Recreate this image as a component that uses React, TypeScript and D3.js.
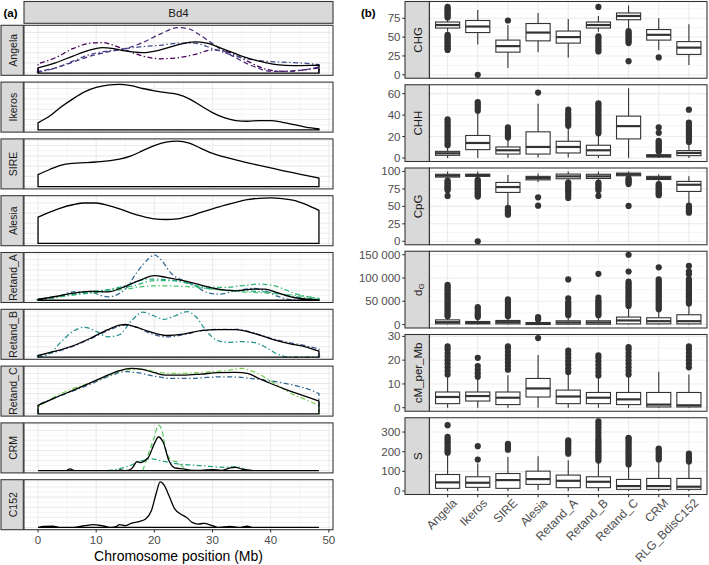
import React from 'react';
import * as d3 from 'd3';

const FONT = '"Liberation Sans", Arial, Helvetica, sans-serif';

// ---------- (a) density panels ----------
const chromosome = 'Bd4';
const families = ['Angela', 'Ikeros', 'SIRE', 'Alesia', 'Retand_A', 'Retand_B', 'Retand_C', 'CRM', 'C152'];
const xTicks = [0, 10, 20, 30, 40, 50];
const xMinor = [5, 15, 25, 35, 45];
const chromMax = 48.3;

const angelaAll = [[0,5],[3,10],[6,16.7],[9,22.7],[11,25],[13,24],[15,21.7],[18,20],[21,22.7],[24,27.7],[27,30.7],[29,29.3],[32,23.3],[35,16.7],[38,11.7],[41,8.3],[44,7.3],[48.3,7.7]];
const angelaSub1 = [[0,9.3],[3,15],[6,24],[9,29.3],[11,30],[13,27.3],[15,22.7],[18,16.7],[21,14],[24,15],[27,18.3],[30,22.7],[33,20],[36,11.7],[39,4],[42,1.7],[45,2.7],[48.3,5]];
const angelaSub2 = [[0,1.7],[3,5],[6,10.7],[9,16.7],[12,20.7],[15,24],[18,30],[21,38.3],[24,44.7],[26,43.3],[28,36.7],[31,25],[34,15],[37,6.7],[40,1.7],[43,1.7],[46,3.3],[48.3,6]];
const angelaSub3 = [[0,0.7],[3,5],[6,11.7],[9,18.3],[12,21.7],[15,24],[18,26],[21,27.3],[24,29.3],[27,29.3],[30,24],[33,18.3],[36,14],[39,11.7],[42,10.7],[45,10],[48.3,8.3]];
const ikerosAll = [[0,6.7],[2,13.3],[4,22.3],[6,30],[8,36.7],[10,41],[12,43.3],[14,44],[16,42.7],[18,40],[20,37.7],[22,36],[24,34.3],[26,30],[28,23.3],[30,16.7],[32,11.7],[34,9],[36,8.3],[38,9],[40,9],[42,7.3],[44,5],[46,2.7],[48.3,1]];
const sireAll = [[0,11.7],[2,16.7],[4,21],[6,22.7],[8,23.3],[10,24],[12,25],[14,26.7],[16,30],[18,35],[20,40],[22,43.3],[24,44.3],[26,42.3],[28,37.3],[30,32.3],[32,29],[34,26],[36,23.3],[38,20.7],[40,18.3],[42,15.7],[44,13.3],[46,11],[48.3,8.3]];
const alesiaAll = [[0,26],[2,31],[4,35.3],[6,38.3],[8,40],[10,40],[12,37.7],[14,34.3],[16,30],[18,26.7],[20,24.3],[22,23.7],[24,24.3],[26,27],[28,30.7],[30,34.3],[32,37.7],[34,40.7],[36,43.3],[38,44.7],[40,45],[42,44.3],[44,42.7],[46,38.7],[48.3,32.7]];
const retandAAll = [[0,1],[3,3.7],[6,7],[9,8.7],[12,8.3],[15,13.7],[18,21],[20,24.3],[22,22.7],[25,19.3],[28,15],[31,11],[34,9.3],[37,11],[39,11],[41,7.7],[44,2.7],[48.3,0.3]];
const retandASub1 = [[0,0.3],[3,2.7],[6,8.3],[9,7.7],[12,3.3],[15,11],[17,27.7],[19,41],[20,45],[21,41],[23,26],[25,19.3],[27,14.3],[29,7.7],[31,6],[34,9.3],[37,11.7],[39,9.3],[41,4.3],[44,0.3],[48.3,0]];
const retandASub2 = [[0,1],[4,4.3],[8,8.3],[12,10.3],[16,13.7],[20,19.3],[24,19.3],[28,13.7],[32,12.7],[36,15],[38,16],[41,13.7],[44,7],[48.3,1.7]];
const retandASub3 = [[0,0.3],[5,4.3],[10,7.7],[15,11],[20,14.3],[25,13.7],[30,11],[35,8.3],[40,7],[44,5],[48.3,1.7]];
const retandASub4 = [[0,0.3],[5,5],[10,8.3],[15,14.3],[19,21],[22,20.3],[25,17.7],[28,12.7],[32,10.3],[36,9.3],[40,7.7],[44,3.7],[48.3,1]];
const retandBAll = [[0,1.7],[3,5.7],[6,11],[9,18.3],[12,26.7],[14,31],[15,31.7],[16,30.7],[19,25],[22,21],[25,22.3],[28,25.7],[31,26.7],[34,26.7],[37,23.3],[40,17.7],[43,13.3],[46,10],[48.3,5.7]];
const retandBSub1 = [[0,1],[3,5],[6,10.3],[9,17.7],[12,25.7],[15,31],[17,29],[19,23.7],[22,19.7],[25,21.7],[28,25.7],[31,27],[34,27],[37,23.7],[40,18.3],[43,14.3],[46,11],[48.3,7.7]];
const retandBSub2 = [[0,0],[2,3.3],[4,15],[6,25],[8,29],[10,25],[12,19.7],[14,21.7],[16,35],[18,43.7],[20,40],[21.6,36.7],[23.5,40],[25.6,44.3],[27,40],[29,25],[31,15.7],[33,14.3],[35,15],[37,14.3],[39,10],[41,3.3],[43,0],[48.3,0]];
const retandCAll = [[0,8.3],[3,16],[6,23.3],[9,30.7],[12,38.3],[14,42.7],[16,45],[18,44],[20,40.7],[22,38.3],[25,38.3],[28,39.3],[31,40.7],[34,41],[36,40],[38,35],[40,30],[43,23.3],[46,17.3],[48.3,12.7]];
const retandCSub1 = [[0,6.7],[3,17.3],[6,25],[9,30.7],[12,37.3],[15,43.3],[18,44],[21,40.7],[24,40],[27,40.7],[30,41.7],[33,43.3],[35,45],[37,41.7],[40,32.7],[43,21.7],[46,14],[48.3,8.3]];
const retandCSub2 = [[0,9.3],[3,16],[6,22.7],[9,29.3],[12,36.7],[15,41.7],[17,40.7],[20,37.3],[23,35],[26,35],[29,36],[32,36.7],[35,36],[38,34],[41,31.7],[44,28.3],[47,23.3],[48.3,20]];
const crmAll = [[0,0],[4.8,0],[5.5,1.7],[6.3,0],[13.5,0],[14.2,0.7],[15,0],[15.7,0.5],[16.3,3.3],[17,9],[17.7,8],[18.3,9.5],[19,13.3],[20,26.7],[20.7,33.3],[21.5,28.3],[22.5,10],[23.5,2.7],[25,1.7],[26.5,0.3],[28,0.3],[30,1],[31.5,0.3],[33,2.7],[34,3.3],[35,1.5],[36,0.7],[37,0],[48.3,0]];
const crmSub1 = [[18,0],[19,16.7],[20,33.3],[20.7,45],[21.3,40],[22,20],[23,10],[24,8.3],[25,3.3],[26,0]];
const crmSub2 = [[12,0],[15,3.3],[18,10],[19.5,11.7],[21,10],[24,6.7],[28,5],[32,3.3],[34,4],[36,0.7],[37,0]];
const c152All = [[0,0],[1,1],[2.5,1.3],[4,0],[6,0],[8,1.7],[9.5,2.7],[11,1.7],[12.5,0],[13.5,1],[14,2.7],[15,1.7],[16,4],[17.5,6],[18.5,8.3],[19.5,16.7],[20.3,33.3],[21,45],[21.7,41.7],[22.5,31.7],[23.5,18.3],[24.5,13.3],[25.5,10],[26.5,5],[27.5,3.3],[28.5,4],[30,1.7],[31,0],[33,1],[34.5,0],[36,1.3],[37,0],[48.3,0]];

const DOTDASH = '5,2.5,1.4,2.5';
const DASHED = '5,3';
type Curve = { pts: number[][]; color: string; dash: string | null };
const subCurves: Curve[][] = [
  [{ pts: angelaSub1, color: '#440154', dash: DOTDASH }, { pts: angelaSub2, color: '#482878', dash: DASHED }, { pts: angelaSub3, color: '#3E4A89', dash: DOTDASH }],
  [], [], [],
  [{ pts: retandASub1, color: '#31688E', dash: DOTDASH }, { pts: retandASub2, color: '#35B779', dash: DOTDASH }, { pts: retandASub3, color: '#4AC16D', dash: DOTDASH }, { pts: retandASub4, color: '#22A884', dash: DOTDASH }],
  [{ pts: retandBSub1, color: '#3B528B', dash: DOTDASH }, { pts: retandBSub2, color: '#21918C', dash: DOTDASH }],
  [{ pts: retandCSub1, color: '#7AD151', dash: DOTDASH }, { pts: retandCSub2, color: '#33638D', dash: DOTDASH }],
  [{ pts: crmSub1, color: '#5DC863', dash: DASHED }, { pts: crmSub2, color: '#20A386', dash: DOTDASH }],
  [],
];
const totalCurves = [angelaAll, ikerosAll, sireAll, alesiaAll, retandAAll, retandBAll, retandCAll, crmAll, c152All];

// ---------- (b) boxplot panels ----------
const categories = ['Angela', 'Ikeros', 'SIRE', 'Alesia', 'Retand_A', 'Retand_B', 'Retand_C', 'CRM', 'RLG_BdisC152'];
const metrics = ['CHG', 'CHH', 'CpG', 'dG', 'cM_per_Mb', 'S'];
const metricDomains = [[-4.6, 97.2], [-3.25, 68.25], [-5, 105], [-7500, 157500], [-1.5, 30.8], [-17.75, 372.75]];
const metricTicks = [[0, 25, 50, 75], [0, 20, 40, 60], [0, 25, 50, 75, 100], [0, 50000, 100000, 150000], [0, 10, 20, 30], [0, 100, 200, 300]];

// [lower whisker, q1, median, q3, upper whisker]
const chgBox = [[57,62,66,70,75],[40,56,64,72,86],[9,30,38,46,66],[30,45,56,68,82],[23,42,50,58,74],[57,62,66,70,78],[62,73,78,82,92],[33,46,53,60,75],[13,27,36,44,67]];
const chgOut = [[33,35,37,39,41,43,45,47,49,51,53,76,78,80,82,84,86,88,90],[0],[72],[],[],[31,34,37,40,43,46,49,51,90],[18,42,44,46,48,50,52,54,56,58],[23],[]];
const chhBox = [[0,2.5,4.4,6.2,11],[0,7.8,14,21,41],[0.3,3.7,7.2,10.3,18],[0.5,3.7,10.3,24.4,50.6],[0.5,4.7,10.3,15.6,29],[0,2.5,7.2,11.9,21.9],[0,17.8,29.7,39,65],[0,0.9,1.9,3.1,5],[0,2.2,4.7,6.9,14]];
const chhOut = [[12,14,16,18,20,22,24,26,28,30,32,34,36],[44,46,48,50,52],[19,21,23,25,27,28.5],[61],[30,32,34,36,38,40,42,45],[23,25,27,29,31,33,35,37,39,41,43,45,47,49,51],[],[6,7.5,9,10.5,12,13.5,15,16,23.5,28.5],[15,17,19,21,23,25,27,29,31,33,45]];
const cpgBox = [[88,92,94,96,100],[90,93,95,96,100],[50,70,77.7,84.3,95],[85,88,90.5,93,97],[85,89.6,93,96.3,100],[85,90,93,96,100],[91,93.9,96,97.7,100],[83,88.6,90.5,93,96],[55,71.4,81,85.7,93]];
const cpgOut = [[65,73,75,77,79,81,83,85,87],[0,64,66,68,70,72,74,76,78,80,82,84,86,88],[38,40,42,44,46,48],[51,63],[62,66,70,73,76,79,82,84],[65,73,76,79,82,84],[50.6,82,84,86,88,90],[66,68,70,72,74,76,78,80,82],[41,43,45,47,49,51]];
const dgBox = [[0,1500,5000,10000,16000],[0,1400,3600,6500,13000],[0,1400,5000,8700,17000],[0,0,1400,4300,10000],[0,700,4300,8000,18000],[0,700,4300,8000,18000],[0,1400,8700,16000,36000],[0,1400,7200,14500,30000],[0,1400,7200,21000,42000]];
const dgOut = [
  [17500,21000,25000,29000,33000,37000,41000,45000,49000,53000,57000,61000,65000,69000,73000,77000,81000,85000],
  [16000,20000,24000,29000,34000,37700],
  [18000,22000,26000,30000,34000,38000,42000,46000,50000,54000],
  [11000,13000,16000],
  [20000,24000,28000,32000,36000,40000,44000,48000,56000,97000],
  [20000,24000,28000,32000,36000,40000,44000,48000,52000,58000,109000],
  [40000,44000,48000,52000,56000,60000,64000,68000,72000,76000,80000,84000,88000,92000,114000,150000],
  [33000,37000,41000,45000,49000,53000,57000,61000,65000,69000,73000,77000,81000,85000,89000,93000,97000,123000],
  [45000,49000,53000,57000,61000,65000,69000,73000,77000,81000,85000,89000,93000,97000,108000,114000,126000],
];
const cmBox = [[0,1.7,4.5,6.6,13.5],[0,2.8,4.9,6.6,12],[0,1.3,4.2,6.6,13.7],[0,4.5,8.1,12.3,22.2],[0,1.7,4.7,7.4,13.9],[0,1.7,4.2,6.4,13],[0,1.3,3.5,6.4,13.5],[0,0.3,1.3,6.4,15.1],[0,0.3,1,6.4,14]];
const cmOut = [[14,15.5,17,18.5,20,21.5,23,24.5,25.8],[13,14.5,16,17.5,21],[16,17.5,19,20.5,22,23.5,25,25.8],[29.3],[15,16.5,18,19.5,21,22.5,24],[13.5,15,16.5,18,19.5,21,22],[14,15.5,17,18.5,20,21.5,23,24.5,25.5],[],[17,18.5,20,21.5,23,24.5,25.8]];
const sBox = [[0,13.5,43.8,84,188],[0,18.5,42,72.5,140],[0,13.5,55.6,89,173],[5,33.7,60.7,101,177],[0,16.9,52,81,157],[0,16.9,47,72.5,148],[0,8.4,25,59,131],[0,8.4,25,64,145],[0,8.4,21.9,64,140]];
const sOut = [[195,205,215,225,235,245,255,265,275,335],[160,228],[210,220,230,240],[],[190,200,210,220,230,240,250,258],[155,165,175,185,195,205,215,225,235,245,255,265,280,295,310,325,340,355],[135,145,155,165,175,185,195,205,215,225,235,245,255,265,271],[160,170,180,190,200,210,216],[150,160,170,180,190]];

const allBoxes = [chgBox, chhBox, cpgBox, dgBox, cmBox, sBox];
const allOuts = [chgOut, chhOut, cpgOut, dgOut, cmOut, sOut];

// ---------- layout ----------
const W = 709, H = 565;
const GRID = '#EBEBEB';
const BORDER = '#333333';
const STRIP = '#D9D9D9';
const TICKTXT = '#4D4D4D';

const L = { x0: 24, x1: 333, top: 25.3, h: 50, step: 56.8, stripX: 1, stripW: 22.3 };
const R = { x0: 429.5, x1: 707, top: 1.5, h: 76.75, step: 83.25, stripX: 405, stripW: 24.3 };

const fmtNum = (v: number) => d3.format(',')(v).replace(/,/g, ' ');

export default function App() {
  const xL = d3.scaleLinear().domain([-0.05 * chromMax, chromMax * 1.05]).range([L.x0, L.x1]);
  const xR = d3.scaleLinear().domain([0.4, categories.length + 0.6]).range([R.x0, R.x1]);
  const boxW = 0.8 * (xR(2) - xR(1));

  const leftPanels = families.map((fam, i) => {
    const top = L.top + i * L.step;
    const bottom = top + L.h;
    const all = totalCurves[i];
    const subs = subCurves[i];
    const M = d3.max([all, ...subs.map(s => s.pts)].flat(), (d: number[]) => d[1]) as number;
    const y = d3.scaleLinear().domain([-0.05 * M, 1.05 * M]).range([bottom, top]);
    const area = d3.area<number[]>().x(d => xL(d[0])).y0(y(0)).y1(d => y(d[1])).curve(d3.curveMonotoneX);
    const line = d3.line<number[]>().x(d => xL(d[0])).y(d => y(d[1])).curve(d3.curveMonotoneX);
    const major = y.ticks(5);
    const step = major.length > 1 ? major[1] - major[0] : 10;
    const minor = major.map(t => t + step / 2).concat([major[0] - step / 2]).filter(t => t > y.domain()[0] && t < y.domain()[1]);
    return (
      <g key={fam}>
        <rect x={L.x0} y={top} width={L.x1 - L.x0} height={L.h} fill="white" />
        {minor.map(t => <line key={'hm' + t} x1={L.x0} x2={L.x1} y1={y(t)} y2={y(t)} stroke={GRID} strokeWidth={0.55} />)}
        {xMinor.map(t => <line key={'vm' + t} x1={xL(t)} x2={xL(t)} y1={top} y2={bottom} stroke={GRID} strokeWidth={0.55} />)}
        {major.map(t => <line key={'h' + t} x1={L.x0} x2={L.x1} y1={y(t)} y2={y(t)} stroke={GRID} strokeWidth={1.07} />)}
        {xTicks.map(t => <line key={'v' + t} x1={xL(t)} x2={xL(t)} y1={top} y2={bottom} stroke={GRID} strokeWidth={1.07} />)}
        <path d={area(all) || ''} fill="white" stroke="none" />
        {subs.map((s, k) => {
          const p = s.pts;
          const first = p[0], last = p[p.length - 1];
          const d = `M${xL(first[0])},${y(0)}L${xL(first[0])},${y(first[1])}` + (line(p) || '').replace(/^M/, 'L') + `L${xL(last[0])},${y(0)}`;
          return <path key={k} d={d} fill="none" stroke={s.color} strokeWidth={1.25} strokeDasharray={s.dash || undefined} />;
        })}
        <path d={area(all) || ''} fill="none" stroke="#000" strokeWidth={1.3} />
        <rect x={L.x0} y={top} width={L.x1 - L.x0} height={L.h} fill="none" stroke={BORDER} strokeWidth={1.07} />
        <rect x={L.stripX} y={top} width={L.stripW} height={L.h} fill={STRIP} stroke={BORDER} strokeWidth={1.07} />
        <text transform={`translate(${L.stripX + L.stripW / 2 + 0.5},${top + L.h / 2}) rotate(-90)`} textAnchor="middle" dominantBaseline="central" fontSize={10.5} fill="#1A1A1A" fontFamily={FONT}>{fam}</text>
      </g>
    );
  });

  const lastBottom = L.top + (families.length - 1) * L.step + L.h;

  const rightPanels = metrics.map((m, i) => {
    const top = R.top + i * R.step;
    const bottom = top + R.h;
    const y = d3.scaleLinear().domain(metricDomains[i]).range([bottom, top]);
    const ticks = metricTicks[i];
    const st = ticks[1] - ticks[0];
    const minor = ticks.map(t => t + st / 2).concat([ticks[0] - st / 2]).filter(t => t > metricDomains[i][0] && t < metricDomains[i][1]);
    const boxes = allBoxes[i];
    const outs = allOuts[i];
    return (
      <g key={m}>
        <rect x={R.x0} y={top} width={R.x1 - R.x0} height={R.h} fill="white" />
        {minor.map(t => <line key={'hm' + t} x1={R.x0} x2={R.x1} y1={y(t)} y2={y(t)} stroke={GRID} strokeWidth={0.55} />)}
        {ticks.map(t => <line key={'h' + t} x1={R.x0} x2={R.x1} y1={y(t)} y2={y(t)} stroke={GRID} strokeWidth={1.07} />)}
        {categories.map((c, k) => <line key={'v' + c} x1={xR(k + 1)} x2={xR(k + 1)} y1={top} y2={bottom} stroke={GRID} strokeWidth={1.07} />)}
        {categories.map((c, k) => {
          const [lo, q1, md, q3, hi] = boxes[k];
          const cx = xR(k + 1);
          return (
            <g key={c}>
              <line x1={cx} x2={cx} y1={y(q3)} y2={y(hi)} stroke={BORDER} strokeWidth={1.1} />
              <line x1={cx} x2={cx} y1={y(q1)} y2={y(lo)} stroke={BORDER} strokeWidth={1.1} />
              <rect x={cx - boxW / 2} y={y(q3)} width={boxW} height={Math.max(0.5, y(q1) - y(q3))} fill="white" stroke={BORDER} strokeWidth={1.1} />
              <line x1={cx - boxW / 2} x2={cx + boxW / 2} y1={y(md)} y2={y(md)} stroke={BORDER} strokeWidth={2.2} />
              {outs[k].map((v, j) => <circle key={j} cx={cx} cy={y(v)} r={3.1} fill={BORDER} />)}
            </g>
          );
        })}
        <rect x={R.x0} y={top} width={R.x1 - R.x0} height={R.h} fill="none" stroke={BORDER} strokeWidth={1.07} />
        <rect x={R.stripX} y={top} width={R.stripW} height={R.h} fill={STRIP} stroke={BORDER} strokeWidth={1.07} />
        <text transform={`translate(${R.stripX + R.stripW / 2 + 0.5},${top + R.h / 2}) rotate(-90)`} textAnchor="middle" dominantBaseline="central" fontSize={11.5} fill="#1A1A1A" fontFamily={FONT}>
          {m === 'dG' ? (<><tspan>d</tspan><tspan fontSize={8} dy={3}>G</tspan></>) : m}
        </text>
        {ticks.map(t => (
          <g key={'t' + t}>
            <line x1={R.stripX - 2.75} x2={R.stripX} y1={y(t)} y2={y(t)} stroke={BORDER} strokeWidth={1.07} />
            <text x={R.stripX - 4.5} y={y(t)} textAnchor="end" dominantBaseline="central" fontSize={11.5} fill={TICKTXT} fontFamily={FONT}>{fmtNum(t)}</text>
          </g>
        ))}
      </g>
    );
  });

  const rBottom = R.top + (metrics.length - 1) * R.step + R.h;

  return (
    <svg width={W} height={H} style={{ position: 'absolute', left: 0, top: 0, background: 'white' }} fontFamily={FONT}>
      <rect x={0} y={0} width={W} height={H} fill="white" />
      {/* (a) */}
      <text x={3.5} y={17} fontSize={11.5} fontWeight="bold" fill="#000">(a)</text>
      <rect x={L.x0} y={1.5} width={L.x1 - L.x0} height={21.8} fill={STRIP} stroke={BORDER} strokeWidth={1.07} />
      <text x={(L.x0 + L.x1) / 2} y={12.5} textAnchor="middle" dominantBaseline="central" fontSize={11.5} fill="#1A1A1A">{chromosome}</text>
      {leftPanels}
      {xTicks.map(t => (
        <g key={'xt' + t}>
          <line x1={xL(t)} x2={xL(t)} y1={lastBottom} y2={lastBottom + 2.75} stroke={BORDER} strokeWidth={1.07} />
          <text x={xL(t)} y={lastBottom + 14} textAnchor="middle" fontSize={11.5} fill={TICKTXT}>{t}</text>
        </g>
      ))}
      <text x={(L.x0 + L.x1) / 2} y={561} textAnchor="middle" fontSize={14} fill="#000">Chromosome position (Mb)</text>

      {/* (b) */}
      <text x={361} y={17} fontSize={11.5} fontWeight="bold" fill="#000">(b)</text>
      {rightPanels}
      {categories.map((c, k) => (
        <g key={'xc' + c}>
          <line x1={xR(k + 1)} x2={xR(k + 1)} y1={rBottom} y2={rBottom + 2.75} stroke={BORDER} strokeWidth={1.07} />
          <text transform={`translate(${xR(k + 1) + 4},${rBottom + 3}) rotate(-45)`} textAnchor="end" dominantBaseline="hanging" fontSize={12} fill={TICKTXT}>{c}</text>
        </g>
      ))}
    </svg>
  );
}
